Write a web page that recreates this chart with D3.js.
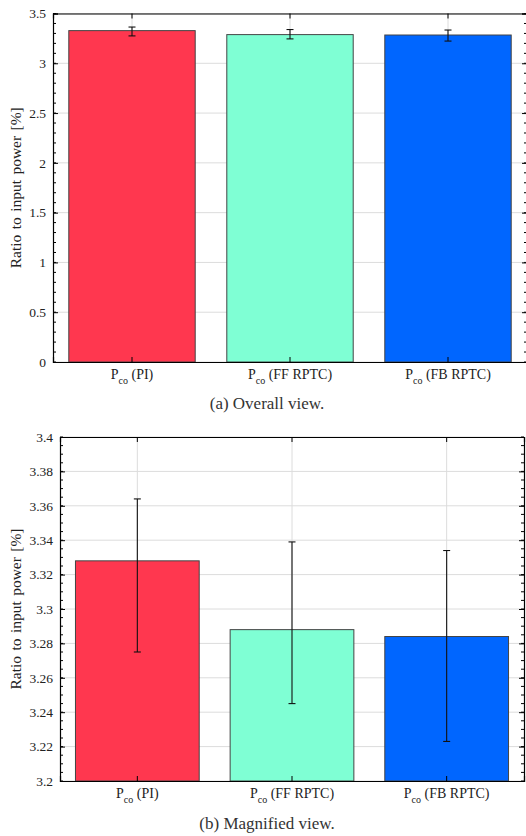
<!DOCTYPE html>
<html>
<head>
<meta charset="utf-8">
<title>Ratio to input power</title>
<script src="https://d3js.org/d3.v7.min.js"></script>
<style>
  body { margin: 0; background: #fff; }
  svg { display: block; }
</style>
</head>
<body>
<svg width="526" height="836"></svg>
<script>
// data
const categories = ["PI", "FF RPTC", "FB RPTC"];
const ratioMean = [3.328, 3.288, 3.284];
const errLow = [3.275, 3.245, 3.223];
const errHigh = [3.364, 3.339, 3.334];
const barColors = ["#ff374f", "#7fffd4", "#0066ff"];

const overallTicks = [0, 0.5, 1, 1.5, 2, 2.5, 3, 3.5];
const magnifiedTicks = [3.2, 3.22, 3.24, 3.26, 3.28, 3.3, 3.32, 3.34, 3.36, 3.38, 3.4];

const svg = d3.select("svg");
const fmt = d3.format("~g");
const serif = "Liberation Serif";

// one panel of the figure
function drawPanel(p) {
  const g = svg.append("g");

  const x = d3.scaleBand()
    .domain(categories)
    .range([p.left, p.right])
    .paddingInner(0.2)
    .paddingOuter(0.1);

  const y = d3.scaleLinear()
    .domain(p.domain)
    .range([p.bottom, p.top]);

  const minor = d3.range(Math.round((p.domain[1] - p.domain[0]) / p.minorStep) + 1)
    .map(i => p.domain[0] + i * p.minorStep);

  // grid
  g.append("g").selectAll("line")
    .data(p.ticks)
    .join("line")
    .attr("x1", p.left).attr("x2", p.right)
    .attr("y1", d => y(d)).attr("y2", d => y(d))
    .attr("stroke", "#dcdcdc").attr("stroke-width", 1);

  g.append("g").selectAll("line")
    .data(categories)
    .join("line")
    .attr("x1", d => x(d) + x.bandwidth() / 2).attr("x2", d => x(d) + x.bandwidth() / 2)
    .attr("y1", p.top).attr("y2", p.bottom)
    .attr("stroke", "#dcdcdc").attr("stroke-width", 1);

  // bars
  g.append("g").selectAll("rect")
    .data(categories)
    .join("rect")
    .attr("x", d => x(d))
    .attr("width", x.bandwidth())
    .attr("y", (d, i) => y(ratioMean[i]))
    .attr("height", (d, i) => p.bottom - y(ratioMean[i]))
    .attr("fill", (d, i) => barColors[i])
    .attr("stroke", "#444")
    .attr("stroke-width", 1);

  // error bars
  const eb = g.append("g").attr("stroke", "#111").attr("stroke-width", 1.1);
  categories.forEach((c, i) => {
    const cx = x(c) + x.bandwidth() / 2;
    eb.append("line").attr("x1", cx).attr("x2", cx)
      .attr("y1", y(errLow[i])).attr("y2", y(errHigh[i]));
    [errLow[i], errHigh[i]].forEach(v => {
      eb.append("line").attr("x1", cx - 3.5).attr("x2", cx + 3.5)
        .attr("y1", y(v)).attr("y2", y(v));
    });
  });

  // axes: ticks pointing inwards on every side
  const left = g.append("g").attr("transform", `translate(${p.left},0)`)
    .call(d3.axisLeft(y).tickValues(p.ticks).tickSize(-5).tickPadding(7).tickFormat(fmt));
  left.append("g").selectAll("line").data(minor).join("line")
    .attr("x1", 0).attr("x2", 3).attr("y1", d => y(d)).attr("y2", d => y(d))
    .attr("stroke", "#000");

  const right = g.append("g").attr("transform", `translate(${p.right},0)`)
    .call(d3.axisRight(y).tickValues(p.ticks).tickSize(-5).tickFormat(""));
  right.append("g").selectAll("line").data(minor).join("line")
    .attr("x1", 0).attr("x2", -3).attr("y1", d => y(d)).attr("y2", d => y(d))
    .attr("stroke", "#000");

  g.append("g").attr("transform", `translate(0,${p.top})`)
    .call(d3.axisTop(x).tickSize(-5).tickFormat(""));

  const bottom = g.append("g").attr("transform", `translate(0,${p.bottom})`)
    .call(d3.axisBottom(x).tickSize(-5).tickFormat(""));

  g.selectAll(".domain").attr("stroke", "#000").attr("stroke-width", 1.2);
  g.selectAll(".tick line").attr("stroke", "#000");
  g.selectAll("g").attr("font-family", serif);
  left.selectAll("text").attr("font-size", 13.5).attr("fill", "#222");

  // category labels with subscript
  bottom.selectAll(".tick").each(function (d) {
    const t = d3.select(this).append("text")
      .attr("y", 17)
      .attr("text-anchor", "middle")
      .attr("font-size", 14)
      .attr("fill", "#222");
    t.append("tspan").text("P");
    t.append("tspan").attr("font-size", 10).attr("dy", 5).text("co");
    t.append("tspan").attr("dy", -5).text("\u00a0(" + d + ")");
  });

  // y label
  g.append("text")
    .attr("transform", `translate(${p.labelX},${(p.top + p.bottom) / 2}) rotate(-90)`)
    .attr("text-anchor", "middle")
    .attr("font-size", 15.5)
    .attr("word-spacing", 1.5)
    .attr("fill", "#222")
    .text("Ratio to input power [%]");

  // caption
  g.append("text")
    .attr("x", 267)
    .attr("y", p.captionY)
    .attr("text-anchor", "middle")
    .attr("font-size", 17)
    .attr("fill", "#333")
    .text(p.caption);

  g.selectAll("text").attr("font-family", serif);
}

drawPanel({
  domain: [0, 3.5], ticks: overallTicks, minorStep: 0.1,
  left: 53, right: 527, top: 13.5, bottom: 362,
  labelX: 21, caption: "(a) Overall view.", captionY: 409
});

drawPanel({
  domain: [3.2, 3.4], ticks: magnifiedTicks, minorStep: 0.005,
  left: 60, right: 524, top: 437, bottom: 781,
  labelX: 21, caption: "(b) Magnified view.", captionY: 829
});
</script>
</body>
</html>
